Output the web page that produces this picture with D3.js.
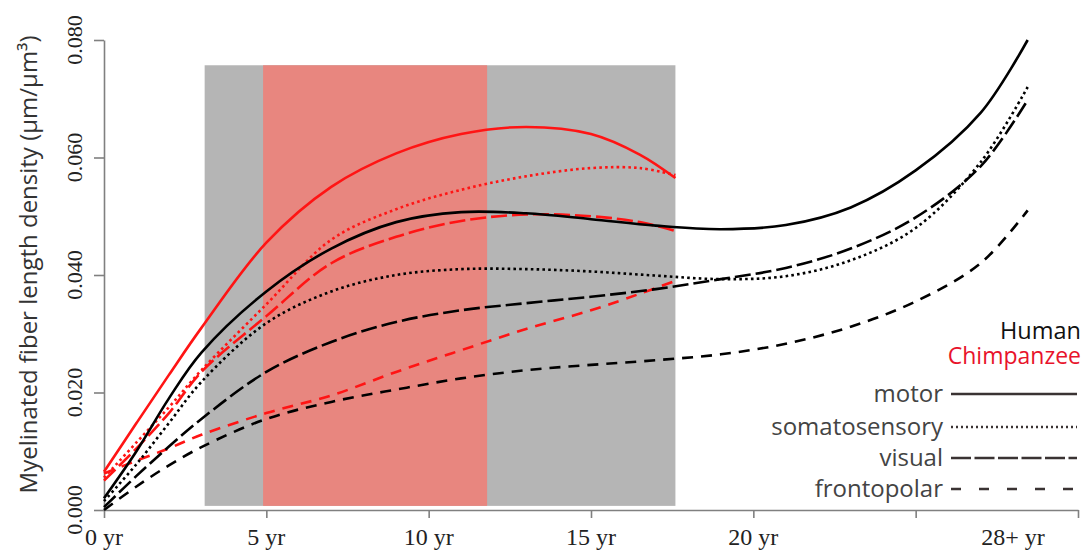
<!DOCTYPE html>
<html><head><meta charset="utf-8">
<script src="https://cdn.jsdelivr.net/npm/d3@7/dist/d3.min.js"></script>
<style>body{margin:0;background:#fff}</style>
</head><body>
<svg id="c" width="1087" height="552"></svg>
<script>
// ---- data ----
const humanAges      = [0, 1, 2, 3, 5, 7, 9, 11, 13, 15, 17, 19, 21, 23, 25, 27, 28.45];
const humanMotor     = [0.002, 0.0100, 0.0190, 0.0268, 0.0372, 0.0445, 0.0490, 0.0507, 0.0505, 0.0495, 0.0484, 0.0478, 0.0485, 0.0515, 0.0578, 0.0676, 0.080];
const humanSomato    = [0.0015, 0.0078, 0.0148, 0.0218, 0.0318, 0.0372, 0.0400, 0.0410, 0.0410, 0.0406, 0.0399, 0.0393, 0.0398, 0.0425, 0.0480, 0.0592, 0.072];
const humanVisual    = [0.0005, 0.0058, 0.0108, 0.0155, 0.0235, 0.0286, 0.0320, 0.0340, 0.0352, 0.0363, 0.0376, 0.0393, 0.0412, 0.0445, 0.0498, 0.0585, 0.0698];
const humanFrontal   = [0.0, 0.0040, 0.0076, 0.0107, 0.0155, 0.0184, 0.0205, 0.0224, 0.0238, 0.0247, 0.0255, 0.0265, 0.0283, 0.0312, 0.0355, 0.0420, 0.051];

const chimpAges      = [0, 1, 2, 3, 5, 7, 9, 11, 13, 15, 16.5, 17.6];
const chimpMotor     = [0.0065, 0.0148, 0.0230, 0.0310, 0.0455, 0.0550, 0.0607, 0.0640, 0.0652, 0.0640, 0.0605, 0.0565];
const chimpSomato    = [0.0055, 0.0115, 0.0175, 0.0238, 0.0350, 0.0460, 0.0512, 0.0545, 0.0568, 0.0582, 0.0582, 0.0570];
const chimpVisual    = [0.0050, 0.0105, 0.0165, 0.0235, 0.0330, 0.0420, 0.0465, 0.0492, 0.0503, 0.0500, 0.0490, 0.0475];
const chimpFrontal   = [0.0062, 0.0084, 0.0105, 0.0128, 0.0165, 0.0195, 0.0235, 0.0272, 0.0308, 0.0340, 0.0368, 0.0390];

const regionNames    = ["motor", "somatosensory", "visual", "frontopolar"];
const speciesNames   = ["Human", "Chimpanzee"];

const xTickValues    = [0, 5, 10, 15, 20, 25, 30];
const xLabelValues   = [0, 5, 10, 15, 20, 28];
const xLabelTexts    = ["0 yr", "5 yr", "10 yr", "15 yr", "20 yr", "28+ yr"];
const yTickValues    = [0, 0.02, 0.04, 0.06, 0.08];
const yTickLabels    = ["0.000", "0.020", "0.040", "0.060", "0.080"];
const yTitle         = "Myelinated fiber length density (µm/µm³)";

const grayWindow     = [3.1, 17.6];
const pinkWindow     = [4.9, 11.8];
const windowRange    = [0.0007, 0.0757];

// ---- drawing ----
const svg = d3.select("#c");
svg.append("rect").attr("width", 1087).attr("height", 552).attr("fill", "#fff");

const x = d3.scaleLinear().domain([0, 30]).range([104, 1078]);
const y = d3.scaleLinear().domain([0, 0.08]).range([510, 40]);

// shaded windows
svg.append("rect")
  .attr("x", x(grayWindow[0])).attr("width", x(grayWindow[1]) - x(grayWindow[0]))
  .attr("y", y(windowRange[1])).attr("height", y(windowRange[0]) - y(windowRange[1]))
  .attr("fill", "#b5b5b5");
svg.append("rect")
  .attr("x", x(pinkWindow[0])).attr("width", x(pinkWindow[1]) - x(pinkWindow[0]))
  .attr("y", y(windowRange[1])).attr("height", y(windowRange[0]) - y(windowRange[1]))
  .attr("fill", "#e8867f");

// axes
const axisColor = "#808080";
const gx = svg.append("g").attr("transform", `translate(0,${y(0)})`)
  .call(d3.axisBottom(x).tickValues(xTickValues).tickSize(8).tickSizeOuter(0).tickFormat(""));
const gy = svg.append("g").attr("transform", `translate(${x(0)},0)`)
  .call(d3.axisLeft(y).tickValues(yTickValues).tickSize(10).tickSizeOuter(0).tickFormat(""));
[gx, gy].forEach(g => {
  g.selectAll("path,line").attr("stroke", axisColor).attr("stroke-width", 1.6);
});

svg.append("g").selectAll("text").data(xLabelValues).join("text")
  .attr("x", d => x(d)).attr("y", 545)
  .attr("text-anchor", "middle")
  .attr("font-family", "Liberation Serif, serif").attr("font-size", 24).attr("fill", "#222")
  .text((d, i) => xLabelTexts[i]);

svg.append("g").selectAll("text").data(yTickValues).join("text")
  .attr("transform", d => `translate(82,${y(d)}) rotate(-90)`)
  .attr("text-anchor", "middle")
  .attr("font-family", "Liberation Serif, serif").attr("font-size", 22).attr("fill", "#222")
  .text((d, i) => yTickLabels[i]);

svg.append("text")
  .attr("transform", `translate(37,${y(0.0418)}) rotate(-90)`)
  .attr("text-anchor", "middle")
  .attr("font-family", "Open Sans, sans-serif").attr("font-size", 24).attr("fill", "#333")
  .text(yTitle);

// curves
const dashes = ["none", "2.6,3.2", "16,5", "11,8"];
const line = d3.line().curve(d3.curveCatmullRom.alpha(0.5));
function draw(ages, vals, color, dash) {
  svg.append("path")
    .attr("d", line(ages.map((a, i) => [x(a), y(vals[i])])))
    .attr("fill", "none").attr("stroke", color).attr("stroke-width", 2.6)
    .attr("stroke-dasharray", dash);
}
const chimpSeries = [chimpMotor, chimpSomato, chimpVisual, chimpFrontal];
const humanSeries = [humanMotor, humanSomato, humanVisual, humanFrontal];
chimpSeries.forEach((s, i) => draw(chimpAges, s, "#ff1414", dashes[i]));
humanSeries.forEach((s, i) => draw(humanAges, s, "#000", dashes[i]));

// legend
svg.append("text").attr("x", 1081).attr("y", 339).attr("text-anchor", "end")
  .attr("font-family", "Open Sans, sans-serif").attr("font-size", 23.5).attr("fill", "#111")
  .text(speciesNames[0]);
svg.append("text").attr("x", 1081).attr("y", 364).attr("text-anchor", "end")
  .attr("font-family", "Open Sans, sans-serif").attr("font-size", 23).attr("fill", "#e8132b")
  .text(speciesNames[1]);

const legendDashes = ["none", "2,3", "20,3.5", "10,18"];
const legendRows = [394, 427, 458, 489];
regionNames.forEach((name, i) => {
  svg.append("text").attr("x", 943).attr("y", legendRows[i] + 8).attr("text-anchor", "end")
    .attr("font-family", "Open Sans, sans-serif").attr("font-size", 24).attr("fill", "#444")
    .text(name);
  svg.append("line").attr("x1", 951).attr("x2", 1077)
    .attr("y1", legendRows[i]).attr("y2", legendRows[i])
    .attr("stroke", "#3a3333").attr("stroke-width", 2.6)
    .attr("stroke-dasharray", legendDashes[i]);
});
</script>
</body></html>
